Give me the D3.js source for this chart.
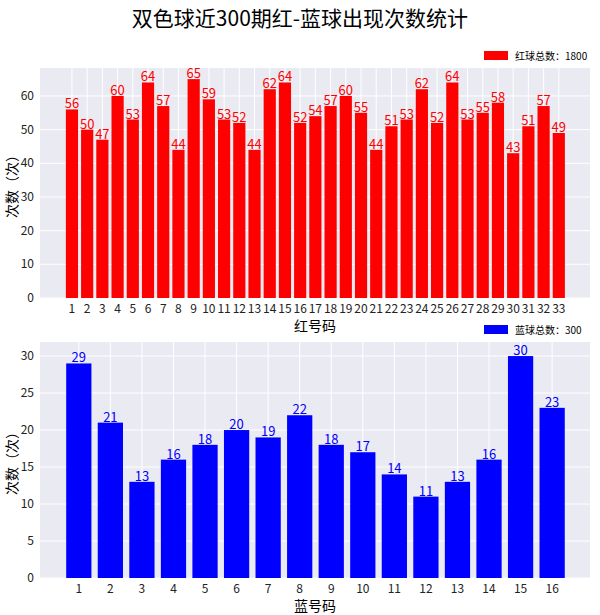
<!DOCTYPE html>
<html>
<head>
<meta charset="utf-8">
<script src="https://cdn.jsdelivr.net/npm/d3@7/dist/d3.min.js"></script>
<style>
  body { margin: 0; background: #fff; }
  text { font-family: "Noto Sans CJK SC", "DejaVu Sans", sans-serif; }
</style>
</head>
<body>
<script>
var redNums = d3.range(1, 34);
var redCounts = [56,50,47,60,53,64,57,44,65,59,53,52,44,62,64,52,54,57,60,55,44,51,53,62,52,64,53,55,58,43,51,57,49];
var blueNums = d3.range(1, 17);
var blueCounts = [29,21,13,16,18,20,19,22,18,17,14,11,13,16,30,23];
var redTicks = [0,10,20,30,40,50,60];
var blueTicks = [0,5,10,15,20,25,30];

var svg = d3.select('body').append('svg').attr('width', 600).attr('height', 615);

svg.append('text').attr('x', 300).attr('y', 26).attr('text-anchor', 'middle')
    .style('font-size', '21px').text('双色球近300期红-蓝球出现次数统计');

function panel(cfg) {
    var g = svg.append('g');
    var x = d3.scaleLinear().domain(cfg.xdom).range([40, 590]);
    var y = d3.scaleLinear().domain([0, cfg.ymax]).range([cfg.bottom, cfg.top]);
    g.append('rect').attr('x', 40).attr('y', cfg.top).attr('width', 550)
        .attr('height', cfg.bottom - cfg.top).attr('fill', '#eaeaf2');
    g.selectAll('.hg').data(cfg.ticks).enter().append('line')
        .attr('x1', 40).attr('x2', 590).attr('y1', d => y(d)).attr('y2', d => y(d))
        .attr('stroke', '#fff').attr('stroke-width', 1);
    g.selectAll('.vg').data(cfg.nums).enter().append('line')
        .attr('y1', cfg.top).attr('y2', cfg.bottom).attr('x1', d => x(d)).attr('x2', d => x(d))
        .attr('stroke', '#fff').attr('stroke-width', 1);
    var bw = (x(2) - x(1)) * 0.8;
    g.selectAll('.bar').data(cfg.counts).enter().append('rect')
        .attr('x', (d, i) => x(cfg.nums[i]) - bw / 2).attr('width', bw)
        .attr('y', d => y(d)).attr('height', d => cfg.bottom - y(d))
        .attr('fill', cfg.color);
    g.selectAll('.lab').data(cfg.counts).enter().append('text')
        .attr('x', (d, i) => x(cfg.nums[i])).attr('y', d => y(d) - 1)
        .attr('text-anchor', 'middle').attr('fill', cfg.color)
        .style('font-size', '13px').text(d => d);
    g.selectAll('.yt').data(cfg.ticks).enter().append('text')
        .attr('x', 34).attr('y', d => y(d) + 4).attr('text-anchor', 'end')
        .style('font-size', '12px').attr('fill', '#222').text(d => d);
    g.selectAll('.xt').data(cfg.nums).enter().append('text')
        .attr('x', d => x(d)).attr('y', cfg.bottom + 15).attr('text-anchor', 'middle')
        .style('font-size', '12px').attr('fill', '#222').text(d => d);
    g.append('text').attr('x', 315).attr('y', cfg.bottom + 33).attr('text-anchor', 'middle')
        .style('font-size', '14px').text(cfg.xlabel);
    g.append('text').attr('transform', 'translate(17,' + ((cfg.top + cfg.bottom) / 2) + ') rotate(-90)')
        .attr('text-anchor', 'middle').style('font-size', '14px').text('次数（次）');
    g.append('rect').attr('x', 484).attr('y', cfg.top - 17).attr('width', 24).attr('height', 9)
        .attr('fill', cfg.color);
    g.append('text').attr('x', 515).attr('y', cfg.top - 8).style('font-size', '10px')
        .text(cfg.legend + d3.sum(cfg.counts));
}

panel({ nums: redNums, counts: redCounts, ticks: redTicks, xdom: [-1.1, 35.05],
        ymax: 68.3, top: 68, bottom: 298, color: '#ff0000', xlabel: '红号码', legend: '红球总数：' });
panel({ nums: blueNums, counts: blueCounts, ticks: blueTicks, xdom: [-0.23, 17.2],
        ymax: 31.9, top: 342, bottom: 578, color: '#0000ff', xlabel: '蓝号码', legend: '蓝球总数：' });
</script>
</body>
</html>
